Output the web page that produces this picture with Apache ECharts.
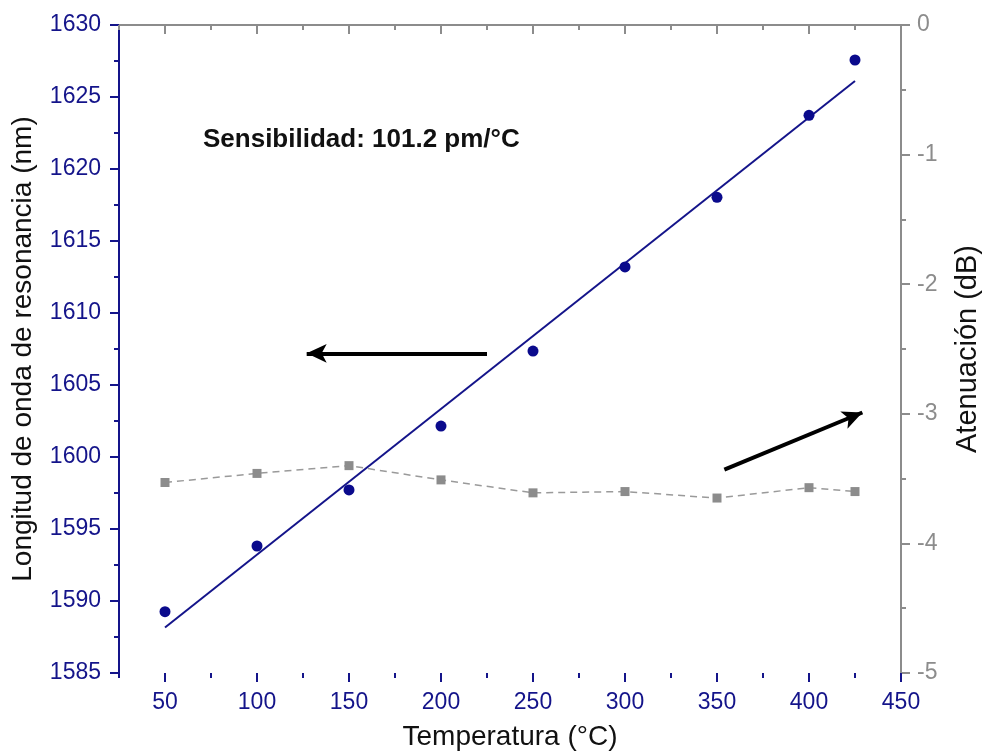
<!DOCTYPE html>
<html>
<head>
<meta charset="utf-8">
<script src="https://cdn.jsdelivr.net/npm/echarts@6/dist/echarts.min.js"></script>
<style>
  html, body { margin: 0; padding: 0; background: #fff; }
  #chart { width: 984px; height: 754px; }
</style>
</head>
<body>
<div id="chart"></div>
<script>
// Measured temperatures (°C)
const temperatures = [50, 100, 150, 200, 250, 300, 350, 400, 425];
// Resonance wavelength (nm)
const wavelengths = [1589.26, 1593.82, 1597.71, 1602.15, 1607.36, 1613.2, 1618.03, 1623.73, 1627.57];
// Attenuation (dB)
const attenuation = [-3.53, -3.46, -3.40, -3.51, -3.61, -3.60, -3.65, -3.57, -3.60];

// Linear fit: sensitivity in pm/°C, intercept in nm
const sensitivity = 101.2;
const fitIntercept = 1583.1;
const fitRange = [50, 425];

// Tick positions for the temperature axis
const majorTemps = [50, 100, 150, 200, 250, 300, 350, 400, 450];
const minorTemps = [25, 75, 125, 175, 225, 275, 325, 375, 425];

const NAVY = '#14148a';
const GREY = '#8c8c8c';
const FONT = '"Liberation Sans", Arial, sans-serif';

const fitLine = fitRange.map(t => [t, fitIntercept + sensitivity / 1000 * t]);

const chart = echarts.init(document.getElementById('chart'), null, { renderer: 'canvas' });

const plotRect = { left: 119, right: 83, top: 25, bottom: 81, containLabel: false, outerBoundsMode: 'none' };
const baseX = { type: 'value', min: 25, max: 450, splitLine: { show: false } };

// An x axis that only draws ticks at the given temperatures
function tickAxis(gridIndex, position, values, length, color) {
  return Object.assign({}, baseX, {
    gridIndex, position,
    axisLine: { show: false },
    axisTick: { show: true, inside: position === 'top', customValues: values, length, lineStyle: { color, width: 2 } },
    axisLabel: { show: false }
  });
}

chart.setOption({
  animation: false,
  backgroundColor: '#fff',
  textStyle: { fontFamily: FONT },
  // grids 1 and 2 share the plot rectangle and only carry extra temperature ticks
  grid: [Object.assign({}, plotRect), Object.assign({}, plotRect), Object.assign({}, plotRect)],
  xAxis: [
    Object.assign({}, baseX, {
      gridIndex: 0, position: 'bottom',
      name: 'Temperatura (°C)',
      nameLocation: 'middle',
      nameGap: 50,
      nameTextStyle: { color: '#111', fontSize: 28, fontFamily: FONT },
      axisLine: { show: true, lineStyle: { color: NAVY, width: 2 } },
      axisTick: { show: false },
      axisLabel: { show: true, customValues: majorTemps, color: NAVY, fontSize: 23, margin: 18, fontFamily: FONT }
    }),
    Object.assign({}, baseX, {
      gridIndex: 0, position: 'top',
      axisLine: { show: true, lineStyle: { color: GREY, width: 2 } },
      axisTick: { show: true, inside: true, customValues: majorTemps, length: 9, lineStyle: { color: GREY, width: 2 } },
      axisLabel: { show: false }
    }),
    tickAxis(1, 'bottom', majorTemps, 9, NAVY),
    tickAxis(1, 'top', minorTemps, 5, GREY),
    tickAxis(2, 'bottom', minorTemps, 5, NAVY)
  ],
  yAxis: [
    {
      gridIndex: 0, type: 'value', position: 'left', min: 1585, max: 1630, interval: 5,
      name: 'Longitud de onda de resonancia (nm)',
      nameLocation: 'middle', nameGap: 82, nameRotate: 90,
      nameTextStyle: { color: '#111', fontSize: 28, fontFamily: FONT },
      splitLine: { show: false },
      axisLine: { show: true, lineStyle: { color: NAVY, width: 2 } },
      axisTick: { show: true, length: 9, lineStyle: { color: NAVY, width: 2 } },
      minorTick: { show: true, splitNumber: 2, length: 5, lineStyle: { color: NAVY, width: 2 } },
      axisLabel: { color: NAVY, fontSize: 23, margin: 18, fontFamily: FONT, formatter: v => String(v) }
    },
    {
      gridIndex: 0, type: 'value', position: 'right', min: -5, max: 0, interval: 1,
      name: 'Atenuación (dB)',
      nameLocation: 'middle', nameGap: 52, nameRotate: 90,
      nameTextStyle: { color: '#111', fontSize: 29, fontFamily: FONT },
      splitLine: { show: false },
      axisLine: { show: true, lineStyle: { color: GREY, width: 2 } },
      axisTick: { show: true, length: 9, lineStyle: { color: GREY, width: 2 } },
      minorTick: { show: true, splitNumber: 2, length: 5, lineStyle: { color: GREY, width: 2 } },
      axisLabel: { color: GREY, fontSize: 23, margin: 16, fontFamily: FONT, formatter: v => String(v) }
    },
    { gridIndex: 1, type: 'value', min: 0, max: 1, show: false },
    { gridIndex: 2, type: 'value', min: 0, max: 1, show: false }
  ],
  series: [
    {
      name: 'Ajuste lineal', type: 'line', xAxisIndex: 0, yAxisIndex: 0,
      data: fitLine, showSymbol: false, symbol: 'none', silent: true, z: 2,
      lineStyle: { color: NAVY, width: 2 },
      markLine: {
        silent: true, symbol: ['none', 'arrow'], symbolSize: [14, 20],
        label: { show: false },
        lineStyle: { color: '#000', width: 4, type: 'solid' },
        data: [[{ coord: [225, 1607.2] }, { coord: [127, 1607.2] }]]
      }
    },
    {
      name: 'Atenuación', type: 'line', xAxisIndex: 0, yAxisIndex: 1,
      data: temperatures.map((t, i) => [t, attenuation[i]]),
      symbol: 'rect', symbolSize: 9, z: 3,
      itemStyle: { color: GREY, opacity: 1 },
      lineStyle: { color: '#9a9a9a', width: 1.5, type: [7, 5] },
      markLine: {
        silent: true, symbol: ['none', 'arrow'], symbolSize: [14, 20],
        label: { show: false },
        lineStyle: { color: '#000', width: 4, type: 'solid' },
        data: [[{ coord: [354, -3.43] }, { coord: [429, -2.99] }]]
      }
    },
    {
      name: 'Longitud de onda', type: 'scatter', xAxisIndex: 0, yAxisIndex: 0,
      data: temperatures.map((t, i) => [t, wavelengths[i]]),
      symbol: 'circle', symbolSize: 11, z: 4,
      itemStyle: { color: '#0a0a8c', opacity: 1 }
    }
  ],
  graphic: [
    {
      type: 'text', left: 203, top: 127,
      style: {
        text: 'Sensibilidad: ' + sensitivity.toFixed(1) + ' pm/°C',
        fill: '#111', font: 'bold 26px ' + FONT
      }
    }
  ]
});
</script>
</body>
</html>
